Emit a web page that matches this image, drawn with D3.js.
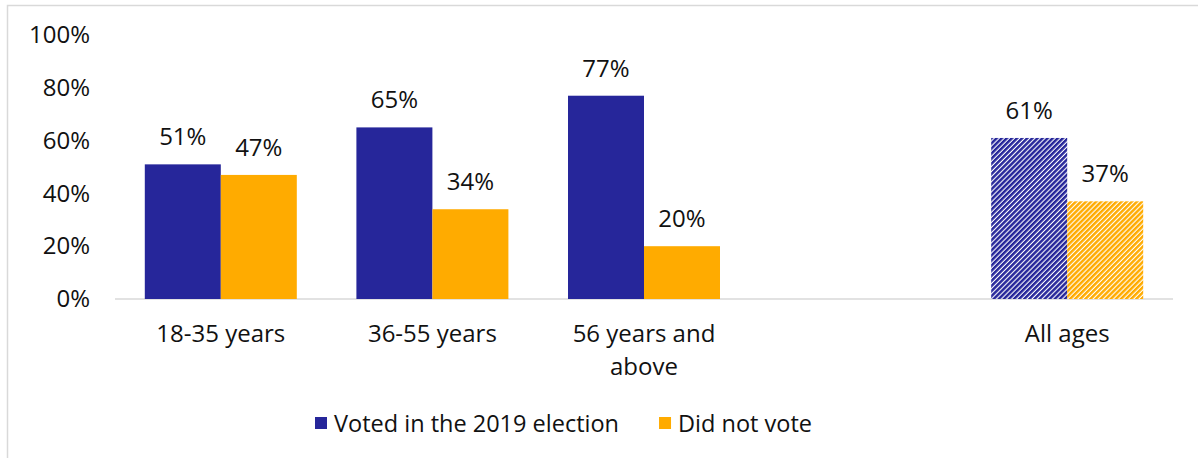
<!DOCTYPE html>
<html>
<head>
<meta charset="utf-8">
<script src="https://cdn.jsdelivr.net/npm/d3@7"></script>
<style>
  body { margin: 0; background: #fff; }
  svg text { font-family: "Open Sans", sans-serif; fill: #111; }
</style>
</head>
<body>
<svg></svg>
<script>
// categories (4th slot is an empty spacer before "All ages")
let categories = ['18-35 years', '36-55 years', '56 years and above', '', 'All ages']
let voted = [51, 65, 77, null, 61]
let notVoted = [47, 34, 20, null, 37]
let seriesNames = ['Voted in the 2019 election', 'Did not vote']
let yTicks = [0, 20, 40, 60, 80, 100]

let colors = ['#26269a', '#ffab00']

let W = 1198, H = 458
let margin = { top: 35, right: 25, bottom: 159, left: 115 }
let width = W - margin.left - margin.right
let height = H - margin.top - margin.bottom

let svg = d3.select('svg').attr('width', W).attr('height', H)

// hatch patterns for the "All ages" bars
let defs = svg.append('defs')
colors.forEach((c, i) => {
  let p = defs.append('pattern')
    .attr('id', 'hatch' + i)
    .attr('patternUnits', 'userSpaceOnUse')
    .attr('width', 3.6).attr('height', 3.6)
    .attr('patternTransform', 'rotate(45)')
  p.append('rect').attr('width', 3.6).attr('height', 3.6).attr('fill', '#fff')
  p.append('rect').attr('width', 2.5).attr('height', 3.6).attr('fill', c)
})

// outer frame
svg.append('rect')
  .attr('x', 7.5).attr('y', 5.5)
  .attr('width', W + 10).attr('height', H + 10)
  .attr('fill', 'none').attr('stroke', '#d9d9d9').attr('stroke-width', 1.5)

let chart = svg.append('g')
  .attr('transform', 'translate(' + margin.left + ',' + margin.top + ')')

let x = d3.scaleBand().domain(d3.range(categories.length)).range([0, width]).paddingInner(0).paddingOuter(0)
let xs = d3.scaleBand().domain([0, 1]).range([0, 152]).padding(0)
let y = d3.scaleLinear().domain([0, 100]).range([height, 0])

// y axis labels, no line
let yAxis = chart.append('g').attr('class', 'axis y')
  .call(d3.axisLeft(y).tickValues(yTicks).tickFormat(d => d + '%').tickSize(0).tickPadding(25))
yAxis.select('.domain').remove()
yAxis.selectAll('text')
  .attr('font-size', 24).attr('font-family', '"Open Sans", sans-serif').attr('fill', '#111')

// baseline
chart.append('line')
  .attr('x1', 0).attr('x2', width)
  .attr('y1', height).attr('y2', height)
  .attr('stroke', '#d9d9d9').attr('stroke-width', 1.5)

let rows = categories.map((c, i) => ({ i: i, cat: c, vals: [voted[i], notVoted[i]] }))
  .filter(d => d.vals[0] != null)

let group = chart.selectAll('.grp')
  .data(rows)
  .enter()
  .append('g')
  .attr('class', 'grp')
  .attr('transform', d => 'translate(' + (x(d.i) + x.bandwidth() / 2 - 76) + ',0)')

let bars = group.selectAll('.bar')
  .data(d => d.vals.map((v, k) => ({ v: v, k: k, hatch: d.cat === 'All ages' })))
  .enter()

bars.append('rect')
  .attr('class', 'bar')
  .attr('x', d => xs(d.k))
  .attr('y', d => y(d.v))
  .attr('width', xs.bandwidth())
  .attr('height', d => height - y(d.v))
  .attr('fill', d => d.hatch ? 'url(#hatch' + d.k + ')' : colors[d.k])

bars.append('text')
  .attr('x', d => xs(d.k) + xs.bandwidth() / 2)
  .attr('y', d => y(d.v) - 19)
  .attr('text-anchor', 'middle')
  .attr('font-size', 24)
  .text(d => d.v + '%')

// category labels (wrapped, one text per line)
let catLines = { '56 years and above': ['56 years and', 'above'] }
let lineData = []
rows.forEach(d => {
  (catLines[d.cat] || [d.cat]).forEach((t, j) => lineData.push({ t: t, i: d.i, j: j }))
})

chart.selectAll('.cat')
  .data(lineData)
  .enter()
  .append('text')
  .attr('class', 'cat')
  .attr('text-anchor', 'middle')
  .attr('font-size', 24)
  .attr('x', d => x(d.i) + x.bandwidth() / 2)
  .attr('y', d => height + 43 + d.j * 33)
  .text(d => d.t)

// legend
let legend = svg.append('g').attr('transform', 'translate(315,423)')
let lx = 0
seriesNames.forEach((name, k) => {
  let g = legend.append('g').attr('transform', 'translate(' + lx + ',0)')
  g.append('rect').attr('x', 0).attr('y', -6).attr('width', 12).attr('height', 12).attr('fill', colors[k])
  let t = g.append('text').attr('x', 19).attr('y', 8.5).attr('font-size', 23.5).text(name)
  lx += 19 + t.node().getComputedTextLength() + 40
})
</script>
</body>
</html>
